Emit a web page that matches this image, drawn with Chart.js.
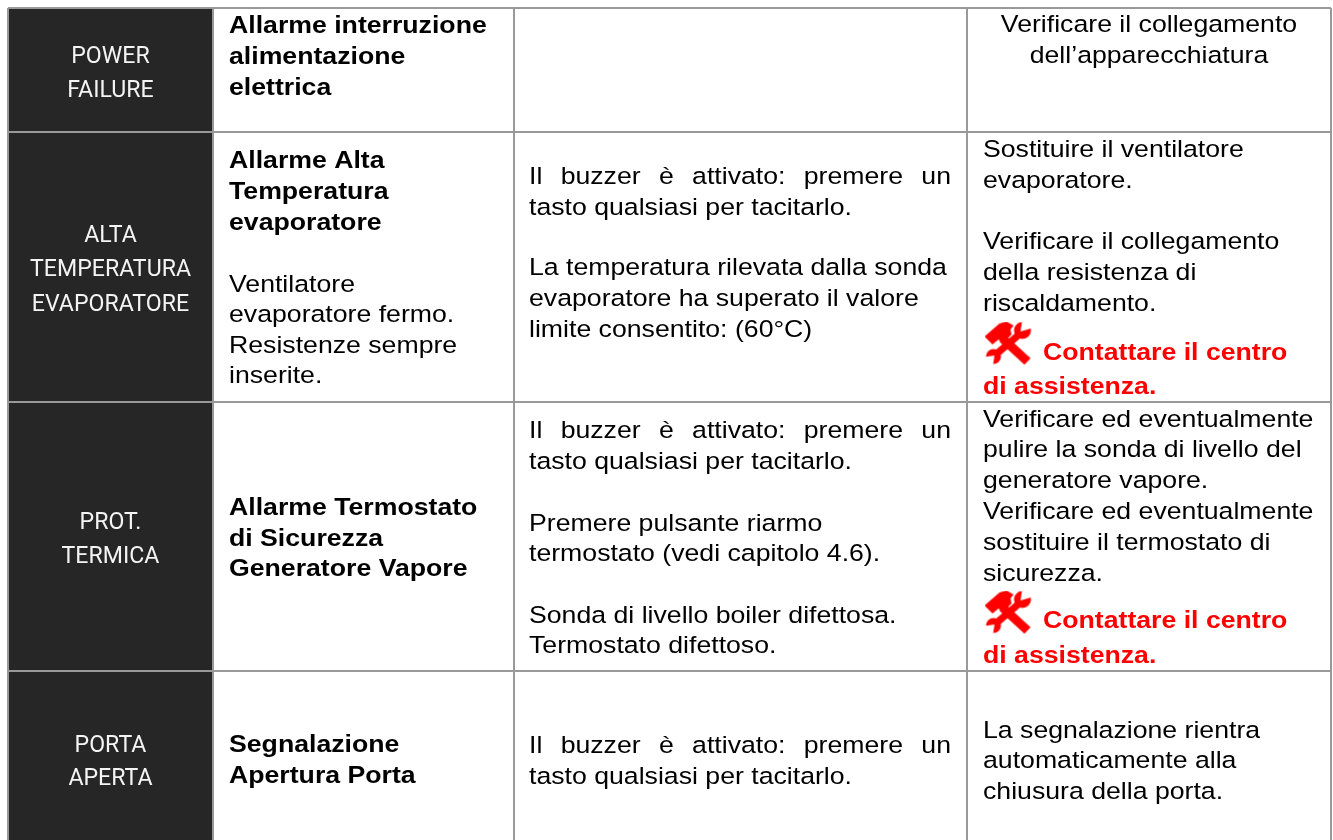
<!DOCTYPE html>
<html lang="it">
<head>
<meta charset="utf-8">
<title>Allarmi</title>
<script src="https://cdn.jsdelivr.net/npm/chart.js@4/dist/chart.umd.min.js"></script>
<style>
  html, body { margin: 0; background: #fff; }
  canvas { display: block; }
</style>
</head>
<body>
<canvas id="alarmTable" width="1333" height="840"></canvas>
<script>
// table structure
const columnEdges = [8, 213, 514, 967, 1331];
const rowEdges = [8, 132, 402, 671, 840];

// first column (dark cells)
const statusLines = ['POWER', 'FAILURE', 'ALTA', 'TEMPERATURA', 'EVAPORATORE', 'PROT.', 'TERMICA', 'PORTA', 'APERTA'];
const statusBaselines = [63, 97, 242, 276, 311, 529, 563, 752, 785];

// second column
const alarmTitles = ['Allarme interruzione', 'alimentazione', 'elettrica', 'Allarme Alta', 'Temperatura', 'evaporatore',
  'Allarme Termostato', 'di Sicurezza', 'Generatore Vapore', 'Segnalazione', 'Apertura Porta'];
const alarmTitleBaselines = [33, 64, 95, 168, 199, 230, 515, 546, 576, 752, 783];
const alarmNotes = ['Ventilatore', 'evaporatore fermo.', 'Resistenze sempre', 'inserite.'];
const alarmNoteBaselines = [292, 322, 353, 383];

// third column
const causeLines = ['Il buzzer è attivato: premere un', 'tasto qualsiasi per tacitarlo.',
  'La temperatura rilevata dalla sonda', 'evaporatore ha superato il valore', 'limite consentito: (60°C)',
  'Il buzzer è attivato: premere un', 'tasto qualsiasi per tacitarlo.',
  'Premere pulsante riarmo', 'termostato (vedi capitolo 4.6).',
  'Sonda di livello boiler difettosa.', 'Termostato difettoso.',
  'Il buzzer è attivato: premere un', 'tasto qualsiasi per tacitarlo.'];
const causeBaselines = [184, 215, 275, 306, 337, 438, 469, 531, 561, 623, 653, 753, 784];

// fourth column
const centeredActions = ['Verificare il collegamento', 'dell’apparecchiatura'];
const centeredActionBaselines = [32, 63];
const actionLines = ['Sostituire il ventilatore', 'evaporatore.', 'Verificare il collegamento', 'della resistenza di', 'riscaldamento.',
  'Verificare ed eventualmente', 'pulire la sonda di livello del', 'generatore vapore.', 'Verificare ed eventualmente', 'sostituire il termostato di', 'sicurezza.',
  'La segnalazione rientra', 'automaticamente alla', 'chiusura della porta.'];
const actionBaselines = [157, 188, 249, 280, 311, 427, 457, 488, 519, 550, 581, 738, 768, 799];
const contactLines = ['Contattare il centro', 'di assistenza.', 'Contattare il centro', 'di assistenza.'];
const contactBaselines = [360, 394, 628, 663];
const contactIndents = [60, 0, 60, 0];
const toolIconRows = [343.5, 612.5];

const bodyFont = '"Liberation Sans", Arial, sans-serif';
const bodySize = '26.67px ';
const cellPadding = 16;
// the original is a page stretched sideways, glyphs are lower than their width suggests
const glyphHeight = 0.92;

// hammer and wrench icon, used as the point style of the icon dataset
function makeToolIcon() {
    const icon = document.createElement('canvas');
    icon.width = 48;
    icon.height = 44;
    const c = icon.getContext('2d');
    c.fillStyle = c.strokeStyle = '#ff0000';
    // wrench
    c.lineWidth = 7;
    c.lineCap = 'butt';
    c.beginPath();
    c.moveTo(9, 35);
    c.lineTo(37, 11);
    c.stroke();
    c.beginPath();
    c.arc(38, 9, 8.5, 0, Math.PI * 2);
    c.fill();
    c.beginPath();
    c.arc(9, 35, 7.5, 0, Math.PI * 2);
    c.fill();
    c.globalCompositeOperation = 'destination-out';
    c.beginPath();
    c.moveTo(36, 10);
    c.lineTo(38, -3);
    c.lineTo(50, 6);
    c.closePath();
    c.fill();
    c.beginPath();
    c.moveTo(10, 34);
    c.lineTo(8, 47);
    c.lineTo(-3, 36);
    c.closePath();
    c.fill();
    c.globalCompositeOperation = 'source-over';
    // hammer
    c.lineWidth = 9;
    c.beginPath();
    c.moveTo(18, 17);
    c.lineTo(43, 40);
    c.stroke();
    c.beginPath();
    c.moveTo(0, 15);
    c.lineTo(15, 2);
    c.lineTo(22, 0);
    c.lineTo(29, 4);
    c.lineTo(26, 8);
    c.lineTo(27, 13);
    c.lineTo(18, 22);
    c.lineTo(14, 18);
    c.lineTo(8, 23);
    c.closePath();
    c.fill();
    return icon;
}

function putText(ctx, text, px, py, scaleX) {
    ctx.save();
    ctx.translate(px, py);
    ctx.scale(scaleX, glyphHeight);
    ctx.fillText(text, 0, 0);
    ctx.restore();
}

function drawLines(ctx, lines, baselines, font, color, x, y, align) {
    ctx.font = font;
    ctx.fillStyle = color;
    ctx.textAlign = align;
    lines.forEach((line, i) => putText(ctx, line, x, y.getPixelForValue(baselines[i]), 1));
}

// text of the table cells
const cellText = {
    id: 'cellText',
    afterDraw(chart) {
        const ctx = chart.ctx;
        const x = chart.scales.x;
        const y = chart.scales.y;
        ctx.save();
        ctx.textBaseline = 'alphabetic';

        // first column font is condensed, no such family installed so use Roboto squeezed a bit
        ctx.font = '26px Roboto, sans-serif';
        ctx.fillStyle = '#f4f4f4';
        ctx.textAlign = 'center';
        const col1Mid = x.getPixelForValue((columnEdges[0] + columnEdges[1]) / 2);
        statusLines.forEach((line, i) => putText(ctx, line, col1Mid, y.getPixelForValue(statusBaselines[i]), 0.89));

        const col2 = x.getPixelForValue(columnEdges[1] + cellPadding);
        drawLines(ctx, alarmTitles, alarmTitleBaselines, 'bold ' + bodySize + bodyFont, '#000', col2, y, 'left');
        drawLines(ctx, alarmNotes, alarmNoteBaselines, bodySize + bodyFont, '#000', col2, y, 'left');

        // the "Il buzzer" lines are justified in the original
        const col3 = x.getPixelForValue(columnEdges[2] + cellPadding - 1);
        const col3Right = x.getPixelForValue(columnEdges[3] - cellPadding);
        ctx.font = bodySize + bodyFont;
        ctx.fillStyle = '#000';
        ctx.textAlign = 'left';
        causeLines.forEach((line, i) => {
            ctx.wordSpacing = '0px';
            if (line.startsWith('Il buzzer')) {
                const extra = (col3Right - col3 - ctx.measureText(line).width) / (line.split(' ').length - 1);
                ctx.wordSpacing = extra + 'px';
            }
            putText(ctx, line, col3, y.getPixelForValue(causeBaselines[i]), 1);
        });
        ctx.wordSpacing = '0px';

        const col4 = x.getPixelForValue(columnEdges[3] + cellPadding);
        const col4Mid = x.getPixelForValue((columnEdges[3] + columnEdges[4]) / 2);
        drawLines(ctx, centeredActions, centeredActionBaselines, bodySize + bodyFont, '#000', col4Mid, y, 'center');
        drawLines(ctx, actionLines, actionBaselines, bodySize + bodyFont, '#000', col4, y, 'left');

        ctx.font = 'bold ' + bodySize + bodyFont;
        ctx.fillStyle = '#ff0000';
        ctx.textAlign = 'left';
        contactLines.forEach((line, i) => {
            putText(ctx, line, col4 + contactIndents[i], y.getPixelForValue(contactBaselines[i]), 1);
        });
        ctx.restore();
    }
};

const darkCells = rowEdges.slice(0, -1).map((top, i) => ({
    x: (columnEdges[0] + columnEdges[1]) / 2,
    y: [top, rowEdges[i + 1]]
}));

new Chart(document.getElementById('alarmTable'), {
    data: {
        datasets: [{
            type: 'bar',
            data: darkCells,
            backgroundColor: '#262626',
            barThickness: columnEdges[1] - columnEdges[0],
            order: 2
        }, {
            type: 'scatter',
            data: toolIconRows.map(row => ({ x: columnEdges[3] + 41.5, y: row })),
            pointStyle: makeToolIcon(),
            order: 1
        }]
    },
    options: {
        responsive: false,
        animation: false,
        layout: { padding: { left: 8, top: 8, right: 2, bottom: 0 }, autoPadding: false },
        plugins: { legend: { display: false }, tooltip: { enabled: false } },
        scales: {
            x: {
                type: 'linear',
                min: columnEdges[0],
                max: columnEdges[4],
                offset: false,
                afterBuildTicks: axis => { axis.ticks = columnEdges.map(value => ({ value })); },
                ticks: { display: false },
                border: { display: false },
                grid: { color: '#999999', lineWidth: 2, drawTicks: false, offset: false, z: 1 }
            },
            y: {
                type: 'linear',
                min: rowEdges[0],
                max: rowEdges[4],
                reverse: true,
                // no closing rule at the bottom, the page cuts the table there
                afterBuildTicks: axis => { axis.ticks = rowEdges.slice(0, -1).map(value => ({ value })); },
                ticks: { display: false },
                border: { display: false },
                grid: { color: '#999999', lineWidth: 2, drawTicks: false, z: 1 }
            }
        }
    },
    plugins: [cellText]
});
</script>
</body>
</html>
